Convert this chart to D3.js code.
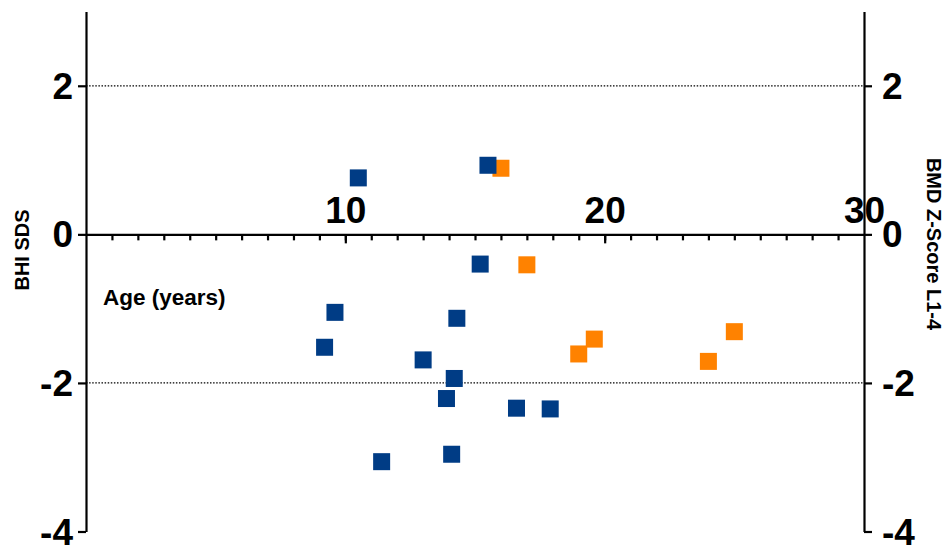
<!DOCTYPE html>
<html lang="en">
<head>
  <meta charset="UTF-8">
  <title>BHI SDS and BMD Z-Score by age</title>
  <style>
    body { margin: 0; background: #fff; }
    svg text { font-family: "Liberation Sans", Arial, sans-serif; font-weight: bold; fill: #000; }
  </style>
</head>
<body>
  <svg width="948" height="546"></svg>

  <script src="https://d3js.org/d3.v7.min.js"></script>
  <script>
  // 1. data
  var bhiAge = [10.5, 15.5, 15.2, 9.6, 14.3, 9.2, 13.0, 14.2, 13.9, 16.6, 17.9, 11.4, 14.1];
  var bhiSds = [0.76, 0.93, -0.40, -1.05, -1.13, -1.52, -1.69, -1.94, -2.21, -2.34, -2.35, -3.06, -2.96];

  var bmdAge = [16.0, 17.0, 19.0, 19.6, 24.0, 25.0];
  var bmdZ   = [0.89, -0.41, -1.61, -1.41, -1.71, -1.31];

  var yTicks = [-4, -2, 0, 2];
  var xLabels = [10, 20, 30];
  var gridValues = [-2, 2];

  // 2. scales
  var svg = d3.select("svg");
  var x = d3.scaleLinear().domain([0, 30]).range([86, 864]);
  var y = d3.scaleLinear().domain([-4, 3]).range([531.5, 11.5]);

  // plain hyphen minus like the original
  var fmt = function(d) { return String(d); };

  // dotted reference lines
  svg.selectAll(".grid")
    .data(gridValues)
    .enter()
    .append("line")
    .attr("class", "grid")
    .attr("x1", x(0)).attr("x2", x(30))
    .attr("y1", function(d) { return y(d); })
    .attr("y2", function(d) { return y(d); })
    .attr("stroke", "#000")
    .attr("stroke-width", 1.3)
    .attr("stroke-dasharray", "1.5,1.6");

  function styleAxis(g) {
    g.selectAll("path, line").attr("stroke", "#000").attr("stroke-width", 2.2);
    g.selectAll("text")
      .attr("font-family", "'Liberation Sans', Arial, sans-serif")
      .attr("font-weight", "bold")
      .attr("font-size", 37);
  }

  // 3. axes
  var left = svg.append("g")
    .attr("transform", "translate(" + x(0) + ",0)")
    .call(d3.axisLeft(y).tickValues(yTicks).tickSize(8).tickSizeOuter(0).tickPadding(5).tickFormat(fmt))
    .call(styleAxis);
  left.selectAll("text").attr("dy", "0.34em");

  var right = svg.append("g")
    .attr("transform", "translate(" + x(30) + ",0)")
    .call(d3.axisRight(y).tickValues(yTicks).tickSize(8).tickSizeOuter(0).tickPadding(10).tickFormat(fmt))
    .call(styleAxis);
  right.selectAll("text").attr("dy", "0.34em");

  // x axis sits on y = 0: minor ticks every year, longer ticks at 10 and 20
  svg.append("g")
    .attr("transform", "translate(0," + y(0) + ")")
    .call(d3.axisBottom(x).tickValues(d3.range(1, 30)).tickSize(6).tickSizeOuter(0).tickFormat(""))
    .call(styleAxis);

  svg.append("g")
    .attr("transform", "translate(0," + y(0) + ")")
    .call(d3.axisBottom(x).tickValues([10, 20]).tickSize(9).tickFormat(""))
    .call(styleAxis)
    .select(".domain").remove();

  svg.append("g")
    .attr("transform", "translate(0," + y(0) + ")")
    .call(d3.axisTop(x).tickValues(xLabels).tickSize(0).tickPadding(11).tickFormat(fmt))
    .call(styleAxis)
    .call(function(g) { g.select(".domain").remove(); g.selectAll("line").remove(); });

  // 4. points: orange first, blue drawn on top
  var size = 17;
  var bmd = bmdAge.map(function(a, i) { return { age: a, v: bmdZ[i] }; });
  var bhi = bhiAge.map(function(a, i) { return { age: a, v: bhiSds[i] }; });

  svg.selectAll(".bmd")
    .data(bmd)
    .enter()
    .append("rect")
    .attr("class", "bmd")
    .attr("x", function(d) { return x(d.age) - size / 2; })
    .attr("y", function(d) { return y(d.v) - size / 2; })
    .attr("width", size).attr("height", size)
    .attr("fill", "#ff8200");

  svg.selectAll(".bhi")
    .data(bhi)
    .enter()
    .append("rect")
    .attr("class", "bhi")
    .attr("x", function(d) { return x(d.age) - size / 2; })
    .attr("y", function(d) { return y(d.v) - size / 2; })
    .attr("width", size).attr("height", size)
    .attr("fill", "#003c85");

  // 5. titles
  svg.append("text")
    .attr("transform", "translate(29,250) rotate(-90)")
    .attr("text-anchor", "middle")
    .attr("font-size", 20)
    .text("BHI SDS");

  svg.append("text")
    .attr("transform", "translate(927,244) rotate(90)")
    .attr("text-anchor", "middle")
    .attr("font-size", 20)
    .text("BMD Z-Score L1-4");

  svg.append("text")
    .attr("x", 103)
    .attr("y", 305)
    .attr("font-size", 22.5)
    .text("Age (years)");
  </script>
</body>
</html>
